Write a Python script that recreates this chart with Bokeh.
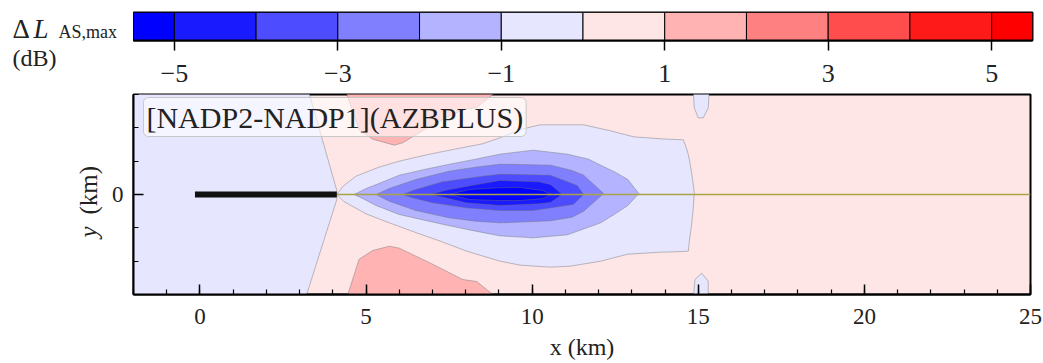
import math

from bokeh.core.properties import value
from bokeh.embed import file_html
from bokeh.layouts import column, row
from bokeh.models import (CustomJSTickFormatter, FixedTicker, Label, Range1d,
                          SingleIntervalTicker, Title)
from bokeh.plotting import figure
from bokeh.resources import INLINE

SERIF = "Liberation Serif"
INK = "#222222"

# ---------------------------------------------------------------- colour scale
# level boundaries of Delta L_AS,max (dB); the two end cells are the extensions
cb_edges = [-5.5, -5, -4, -3, -2, -1, 0, 1, 2, 3, 4, 5, 5.5]
cb_colors = ["#0000ff", "#1a1aff", "#4d4dff", "#8080ff", "#b3b3ff", "#e6e6ff",
             "#ffe6e6", "#ffb3b3", "#ff8080", "#ff4d4d", "#ff1a1a", "#ff0000"]
cb_ticks = [-5, -3, -1, 1, 3, 5]

# ---------------------------------------------------------------- contour bands
# each band: outline in km (x along track, y across track) and its level index
band_lav_left_x = [-2.0, 3.27, 4.12, 4.12, 3.18, -2.0]
band_lav_left_y = [3.1, 3.1, 0.12, -0.15, -3.1, -3.1]

band_lav_plume_x = [4.12, 4.33, 4.70, 5.39, 6.00, 6.91, 7.82, 8.50, 9.03, 9.64,
                    10.24, 11.55, 12.36, 13.06, 13.88, 14.55, 14.64, 14.70,
                    14.76, 14.82, 14.88, 14.85, 14.80, 14.73, 14.70, 14.30,
                    13.88, 12.88, 12.06, 11.15, 10.55, 9.64, 9.03, 8.03, 7.21,
                    6.52, 5.70, 5.00, 4.33]
band_lav_plume_y = [0.0, 0.27, 0.55, 0.82, 1.00, 1.21, 1.39, 1.52, 1.70, 1.95,
                    2.09, 2.09, 1.91, 1.73, 1.67, 1.64, 1.40, 1.20, 0.90, 0.50,
                    0.06, -0.40, -0.90, -1.40, -1.70, -1.72, -1.73, -1.79,
                    -2.00, -2.15, -2.18, -2.12, -2.00, -1.70, -1.39, -1.15,
                    -0.85, -0.58, -0.21]

band_m1_x = [4.64, 5.00, 5.39, 6.00, 6.80, 7.52, 8.30, 9.03, 10.03, 11.06,
             11.70, 12.06, 12.50, 12.88, 13.21, 12.88, 12.50, 12.06, 11.06,
             10.03, 9.03, 8.30, 7.52, 6.80, 6.00, 5.30, 4.90]
band_m1_y = [0.0, 0.18, 0.33, 0.58, 0.76, 0.91, 1.06, 1.21, 1.33, 1.21, 1.06,
             0.88, 0.67, 0.45, 0.03, -0.33, -0.58, -0.85, -1.21, -1.30, -1.24,
             -1.10, -0.94, -0.78, -0.60, -0.33, -0.12]

band_m2_x = [5.30, 5.70, 6.50, 7.50, 8.30, 9.03, 10.55, 11.20, 11.55, 12.15,
             11.55, 11.20, 10.55, 9.03, 8.30, 7.50, 6.50, 5.70]
band_m2_y = [0.0, 0.18, 0.45, 0.70, 0.82, 0.91, 0.88, 0.72, 0.58, 0.03,
             -0.50, -0.68, -0.79, -0.85, -0.80, -0.70, -0.48, -0.20]

band_m3_x = [6.09, 6.50, 7.30, 8.50, 9.03, 10.55, 11.36, 11.55, 11.24, 10.03,
             9.03, 8.00, 7.00, 6.40]
band_m3_y = [0.0, 0.15, 0.38, 0.55, 0.61, 0.58, 0.27, 0.0, -0.30, -0.48,
             -0.48, -0.40, -0.25, -0.10]

band_m4_x = [6.91, 7.50, 8.50, 9.03, 10.20, 10.55, 10.91, 10.55, 10.20, 9.03,
             8.00, 7.40]
band_m4_y = [0.0, 0.15, 0.33, 0.42, 0.38, 0.30, 0.0, -0.24, -0.28, -0.33,
             -0.25, -0.10]

band_m5_x = [7.50, 8.12, 9.00, 9.64, 10.30, 10.60, 10.30, 9.64, 9.00, 8.12]
band_m5_y = [0.0, 0.15, 0.20, 0.21, 0.12, 0.0, -0.12, -0.18, -0.18, -0.15]

band_p1_top_x = [4.39, 4.79, 5.20, 5.85, 6.10, 7.00, 7.91, 8.33, 8.94]
band_p1_top_y = [3.1, 1.94, 1.66, 1.48, 1.55, 2.09, 2.55, 2.61, 3.1]
band_p1_bot_x = [4.42, 4.79, 5.20, 5.70, 6.00, 7.00, 7.91, 8.33, 8.94]
band_p1_bot_y = [-3.1, -1.94, -1.68, -1.55, -1.61, -2.09, -2.55, -2.61, -3.1]

spot_top_x = [14.85, 14.88, 15.00, 15.15, 15.30, 15.33]
spot_top_y = [3.1, 2.60, 2.30, 2.30, 2.60, 3.1]
spot_bot_x = [14.85, 14.90, 15.10, 15.30, 15.30]
spot_bot_y = [-3.1, -2.55, -2.36, -2.60, -3.1]

# index into cb_colors for every band, drawn in this order
band_xs = [band_lav_left_x, band_lav_plume_x, band_m1_x, band_m2_x, band_m3_x,
           band_m4_x, band_m5_x, band_p1_top_x, band_p1_bot_x, spot_top_x,
           spot_bot_x]
band_ys = [band_lav_left_y, band_lav_plume_y, band_m1_y, band_m2_y, band_m3_y,
           band_m4_y, band_m5_y, band_p1_top_y, band_p1_bot_y, spot_top_y,
           spot_bot_y]
band_level = [5, 5, 4, 3, 2, 1, 0, 7, 7, 5, 5]
background_level = 6

# source segment and flight track (km)
source_x = [-0.15, 4.12]
track_x = [4.12, 25.0]


def text_panel(width, height, y_range):
    """Axis-less figure whose frame lines up with its row neighbour."""
    f = figure(width=width, height=height, x_range=Range1d(0, width),
               y_range=y_range, output_backend="svg", toolbar_location=None,
               min_border=0, x_axis_location=None, y_axis_location=None)
    f.grid.visible = False
    f.outline_line_color = None
    return f


def put_text(f, x, y, txt, size, style="normal", angle=0.0):
    f.text(x=[x], y=[y], text=[txt], angle=angle, text_font=value(SERIF),
           text_font_size=size, text_font_style=style, text_color=INK,
           text_align="left", text_baseline="middle")


# ================================================================ colour bar
# the label panel shares the bar's frame rows (0 = bar bottom, 1 = bar top)
cb_lab = text_panel(133, 92, Range1d(0, 1))
put_text(cb_lab, 12, 0.42, "\u0394", "27px")
put_text(cb_lab, 33, 0.42, "L", "27px", style="italic")
put_text(cb_lab, 58, 0.32, "AS,max", "18px")
cb_lab.add_layout(Title(text="(dB)", align="left", offset=12, standoff=4,
                        text_font=SERIF, text_font_size="24px",
                        text_font_style="normal", text_color=INK), "below")

cb = figure(width=910, height=92, x_range=Range1d(-5.5, 5.5),
            y_range=Range1d(0, 1), output_backend="svg", toolbar_location=None,
            min_border_left=0, min_border_right=11, min_border_top=12,
            min_border_bottom=52, y_axis_location=None)
cb.quad(left=cb_edges[:-1], right=cb_edges[1:], bottom=0, top=1,
        fill_color=cb_colors, line_color="black", line_width=1)
cb.grid.visible = False
cb.outline_line_color = "black"
cb.outline_line_width = 2
ax = cb.xaxis[0]
ax.ticker = FixedTicker(ticks=cb_ticks, minor_ticks=[])
ax.formatter = CustomJSTickFormatter(
    code="return tick < 0 ? '\u2212' + Math.abs(tick) : String(tick);")
ax.major_tick_out = 10
ax.major_tick_in = 0
ax.minor_tick_out = 0
ax.major_tick_line_width = 1.5
ax.axis_line_width = 2
ax.major_label_standoff = 14
ax.major_label_text_font = SERIF
ax.major_label_text_font_size = "26px"
ax.major_label_text_color = INK

# ================================================================ map
# the y-label panel shares the map's vertical km scale
y_lab = text_panel(104, 271, Range1d(-3, 3))
put_text(y_lab, 88, -1.29, "y", "25px", style="italic", angle=math.pi / 2)
put_text(y_lab, 88, -0.60, "(km)", "25px", angle=math.pi / 2)

p = figure(width=939, height=271, x_range=Range1d(-2, 25),
           y_range=Range1d(-3, 3), output_backend="svg", toolbar_location=None,
           min_border_left=29, min_border_right=13, min_border_top=2,
           min_border_bottom=69)
p.grid.visible = False
p.background_fill_color = cb_colors[background_level]
p.outline_line_color = "black"
p.outline_line_width = 2

p.patches(xs=band_xs, ys=band_ys,
          fill_color=[cb_colors[i] for i in band_level],
          line_color="#6f6f6f", line_alpha=0.55, line_width=0.8)

p.line(x=track_x, y=[0, 0], line_color="#aaa343", line_width=1.5)
p.line(x=source_x, y=[0, 0], line_color="#111111", line_width=6)

for a in (p.xaxis[0], p.yaxis[0]):
    a.ticker = SingleIntervalTicker(interval=5, num_minor_ticks=5)
    a.major_tick_in = 10
    a.major_tick_out = 0
    a.minor_tick_in = 5
    a.minor_tick_out = 0
    a.major_tick_line_width = 1.5
    a.minor_tick_line_width = 1.2
    a.axis_line_width = 2
    a.major_label_text_font = SERIF
    a.major_label_text_font_size = "23px"
    a.major_label_text_color = INK
p.xaxis[0].major_label_standoff = 14
p.yaxis[0].major_label_standoff = 10
p.xaxis[0].axis_label = "x (km)"
p.xaxis[0].axis_label_standoff = 7
p.xaxis[0].axis_label_text_font = SERIF
p.xaxis[0].axis_label_text_font_style = "normal"
p.xaxis[0].axis_label_text_font_size = "24px"
p.xaxis[0].axis_label_text_color = INK

p.add_layout(Label(x=-1.70, y=1.74, text="[NADP2-NADP1](AZBPLUS)",
                   text_baseline="bottom", text_font=SERIF,
                   text_font_size="30px", text_color=INK,
                   background_fill_color="white", background_fill_alpha=0.6,
                   border_line_color="#c8c8c8", border_line_width=1,
                   padding=3, border_radius=5))

layout = column(row(cb_lab, cb), row(y_lab, p))
open("out.html", "w").write(file_html(layout, INLINE))
